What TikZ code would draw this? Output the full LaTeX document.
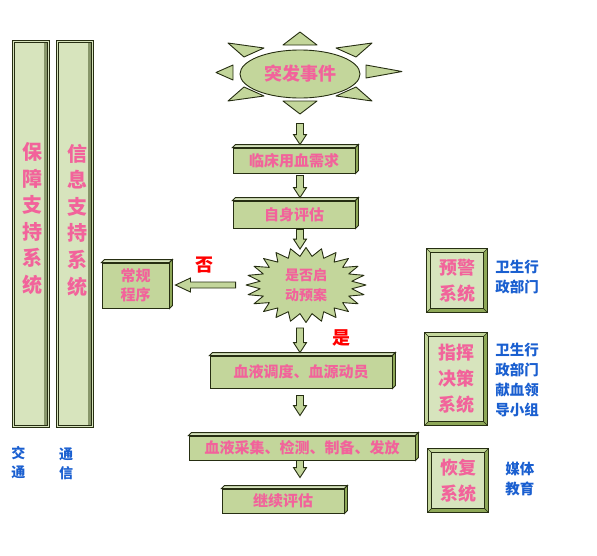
\documentclass[tikz,border=0pt]{standalone}
\usepackage{fontspec}
\setmainfont{Noto Sans CJK SC}
\usetikzlibrary{shapes.geometric, calc}
\definecolor{boxgreen}{HTML}{C3D69B}
\definecolor{palegreen}{HTML}{D7E4BD}
\definecolor{sidegreen}{HTML}{8EA858}
\definecolor{edgeline}{HTML}{262E12}
\definecolor{pinktext}{HTML}{F2639B}
\definecolor{bluetext}{HTML}{1A5FD0}
\newcommand{\fsz}[2]{\fontsize{#1}{#2}\selectfont\bfseries}

\begin{document}
\begin{tikzpicture}[x=1pt, y=-1pt, line width=0.9pt,
    stage/.style={
        rectangle, draw=edgeline, fill=boxgreen, inner sep=0pt,
        align=center, text=pinktext, font=\fsz{15}{19}
    },
    panel/.style={
        rectangle, draw=edgeline, fill=palegreen, inner sep=0pt,
        align=center, text=pinktext, font=\fsz{18}{26}
    },
    sidebar/.style={
        rectangle, draw=edgeline, double=palegreen, double distance=1.4pt,
        line width=0.8pt, fill=palegreen, minimum width=35pt, minimum height=385pt
    },
    bartext/.style={inner sep=0pt, align=center, text=pinktext, font=\fsz{20}{26.6}},
    note/.style={inner sep=0pt, align=left, text=bluetext, font=\fsz{14.5}{20}},
    answer/.style={inner sep=0pt, text=red, font=\fsz{18}{20}},
    ray/.style={draw=edgeline, fill=boxgreen, line join=round},
    downarr/.style={draw=edgeline, fill=boxgreen, to path={
        let \p1=(\tikztostart), \p2=(\tikztotarget) in
        (\x1-3.5pt,\y1) -- (\x1+3.5pt,\y1) -- (\x1+3.5pt,\y2+10pt) -- (\x1+6.5pt,\y2+10pt)
        -- (\x1,\y2) -- (\x1-6.5pt,\y2+10pt) -- (\x1-3.5pt,\y2+10pt) -- cycle}},
    leftarr/.style={draw=edgeline, fill=boxgreen, to path={
        let \p1=(\tikztostart), \p2=(\tikztotarget) in
        (\x1,\y1-3pt) -- (\x1,\y1+3pt) -- (\x2+15pt,\y1+3pt) -- (\x2+15pt,\y1+7pt)
        -- (\x2,\y1) -- (\x2+15pt,\y1-7pt) -- (\x2+15pt,\y1-3pt) -- cycle}},
]
\useasboundingbox (0,0) rectangle (597,555);

% ── Support columns ──────────────────
\node[sidebar] (sup) at (31,234) {};
\node[sidebar] (info) at (75,234) {};
\foreach \n in {sup,info}
  \fill[sidegreen!55!gray] ([xshift=-4.5pt,yshift=-1.8pt]\n.north east) rectangle ([xshift=-1.8pt,yshift=1.8pt]\n.south east);
\node[bartext] (suplbl) at (33,218.5) {保\\障\\支\\持\\系\\统};
\node[bartext] (infolbl) at (77,220) {信\\息\\支\\持\\系\\统};
\node[note, align=center, font=\fsz{14}{19}] (trafficlbl) at (18.5,462.5) {交\\通};
\node[note, align=center, font=\fsz{14}{19}] (commlbl) at (66,463.5) {通\\信};

% ── Event (sun) ──────────────────────
\draw[ray] (283,45) -- (300,32) -- (317,45) -- cycle;
\draw[ray] (283,101) -- (300,114) -- (317,101) -- cycle;
\draw[ray] (233,65) -- (216,72.5) -- (233,80) -- cycle;
\draw[ray] (366,65) -- (402,71.5) -- (366,78) -- cycle;
\draw[ray] (228,43) -- (264,48) -- (244,57) -- cycle;
\draw[ray] (372,43) -- (336,48) -- (356,57) -- cycle;
\draw[ray] (228,101) -- (244,87) -- (264,96) -- cycle;
\draw[ray] (372,101) -- (356,87) -- (336,96) -- cycle;
\node[ellipse, draw=edgeline, fill=boxgreen, minimum width=120pt, minimum height=48pt,
      inner sep=0pt, text=pinktext, font=\fsz{18}{20}] (ev) at (300,74) {突发事件};

% ── Main flow ────────────────────────
\node[stage, minimum width=122pt, minimum height=25pt] (clin) at (294,160.5) {临床用血需求};
\node[stage, minimum width=122pt, minimum height=27pt] (self) at (294,214.5) {自身评估};
\draw[ray] plot[variable=\k, samples at={0,...,47}]
  ({306+(60-13.8*mod(\k,2))*cos(7.5*\k)}, {285+(37.5-8.6*mod(\k,2))*sin(7.5*\k)}) -- cycle;
\node[inner sep=0pt, minimum width=120pt, minimum height=75pt, align=center,
      text=pinktext, font=\fsz{14}{20}] (dec) at (306,285) {是否启\\动预案};
\node[stage, minimum width=67pt, minimum height=45pt] (norm) at (135.5,285.5) {常规\\程序};
\node[stage, minimum width=182pt, minimum height=32pt] (disp) at (301,372) {血液调度、血源动员};
\node[stage, minimum width=226pt, minimum height=24pt] (coll) at (302,448) {血液采集、检测、制备、发放};
\node[stage, minimum width=122pt, minimum height=24pt] (cont) at (283,501) {继续评估};
\foreach \n in {clin,self,norm,disp,coll,cont} {
  \filldraw[draw=edgeline, fill=palegreen] (\n.north west) -- ++(3,-3) -- ([shift={(3,-3)}]\n.north east) -- (\n.north east) -- cycle;
  \filldraw[draw=edgeline, fill=sidegreen] (\n.north east) -- ++(3,-3) -- ([shift={(3,-3)}]\n.south east) -- (\n.south east) -- cycle;
}
\node[answer] (nolbl) at (204,265) {否};
\node[answer] (yeslbl) at (341,338) {是};

% ── Arrows ───────────────────────────
\draw[downarr] ([yshift=-25pt]ev.south) to ([yshift=3pt]clin.north);
\draw[downarr] ($(clin.south -| ev.south)+(0,2)$) to ([yshift=3pt]self.north);
\draw[downarr] ($(self.south -| ev.south)+(0,1)$) to ([yshift=-2pt]dec.north);
\draw[downarr] ($(dec.south -| ev.south)+(0,5)$) to ([yshift=3pt]disp.north);
\draw[downarr] ($(disp.south -| ev.south)+(0,7)$) to ([yshift=20pt]coll.north);
\draw[downarr] (coll.south -| ev.south) to ([yshift=11pt]cont.north);
\draw[leftarr] ([xshift=-10pt]dec.west) to ([xshift=6pt]norm.east);

% ── Right-hand systems ───────────────
\node[panel, minimum width=60pt, minimum height=63pt] (warn) at (457,280.5) {预警\\系统};
\node[panel, minimum width=62pt, minimum height=92pt] (cmd) at (456,379) {指挥\\决策\\系统};
\node[panel, minimum width=60pt, minimum height=63pt] (rec) at (458,480.5) {恢复\\系统};
\foreach \n in {warn,cmd,rec} {
  \fill[boxgreen, even odd rule] (\n.north west) rectangle (\n.south east)
    ([xshift=4pt,yshift=-4pt]\n.north west) rectangle ([xshift=-4pt,yshift=4pt]\n.south east);
  \fill[sidegreen] (\n.south west) -- (\n.south east) -- (\n.north east)
    -- ([xshift=-4pt,yshift=-4pt]\n.north east) -- ([xshift=-4pt,yshift=4pt]\n.south east)
    -- ([xshift=4pt,yshift=4pt]\n.south west) -- cycle;
  \draw[edgeline] (\n.north west) rectangle (\n.south east);
  \draw[edgeline] ([xshift=4pt,yshift=-4pt]\n.north west) rectangle ([xshift=-4pt,yshift=4pt]\n.south east);
  \draw[edgeline, line width=0.5pt] (\n.north west) -- ++(4,4) (\n.north east) -- ++(-4,4)
    (\n.south west) -- ++(4,-4) (\n.south east) -- ++(-4,-4);
}
\node[note, anchor=west] (warnnote) at (495,277) {卫生行\\政部门};
\node[note, anchor=west] (cmdnote) at (495,380) {卫生行\\政部门\\献血领\\导小组};
\node[note, anchor=west] (recnote) at (505,479.5) {媒体\\教育};

\end{tikzpicture}
\end{document}
